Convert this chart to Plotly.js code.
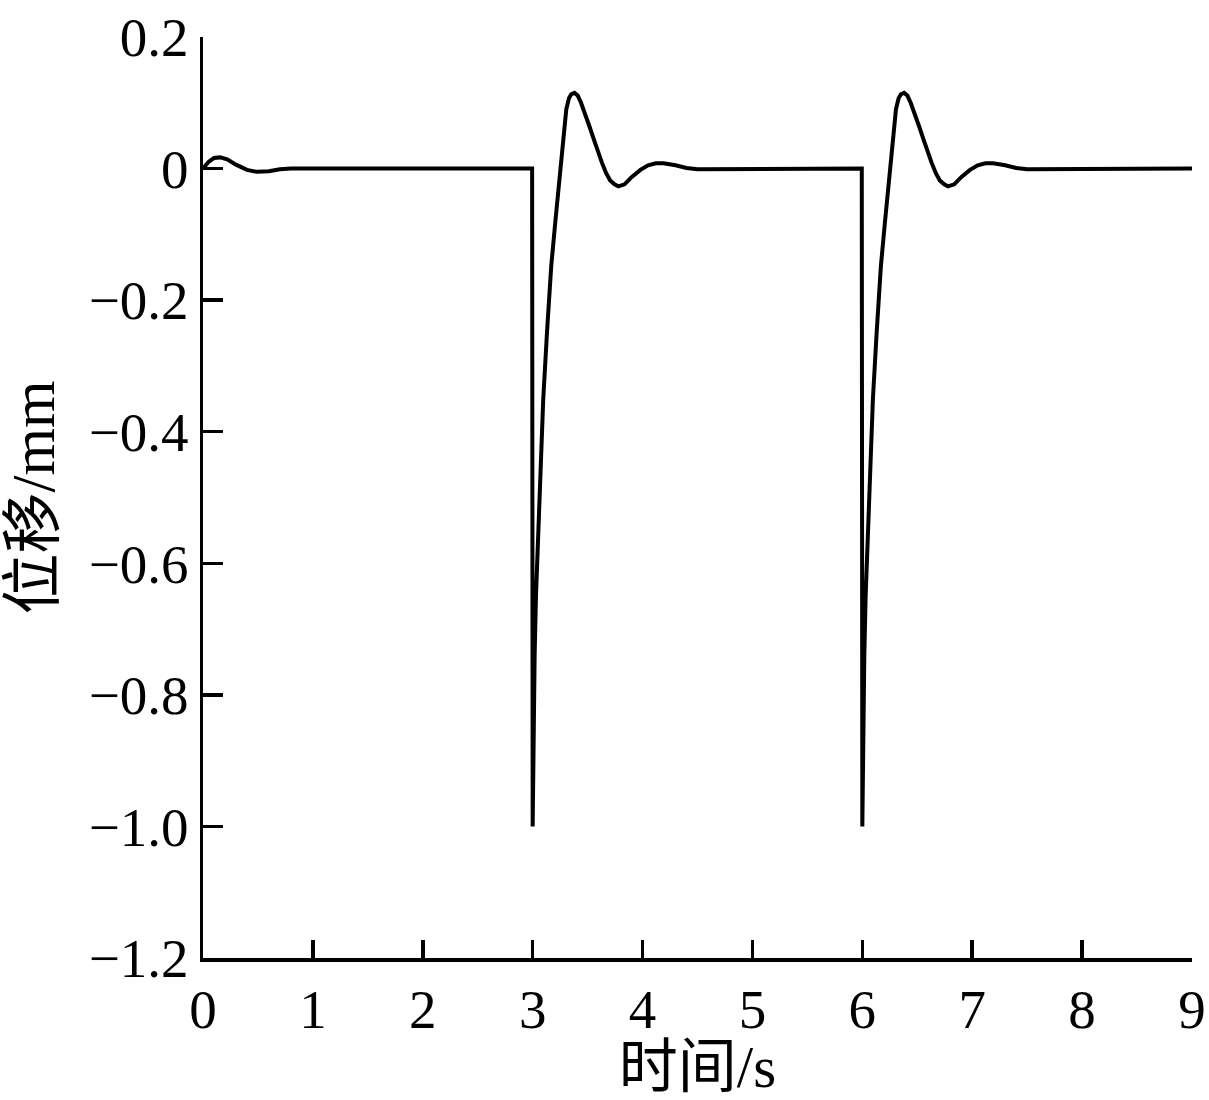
<!DOCTYPE html>
<html>
<head>
<meta charset="utf-8">
<script src="https://cdn.plot.ly/plotly-3.0.1.min.js"></script>
<style>
  html, body { margin: 0; padding: 0; background: #fff; }
  #chart { width: 1209px; height: 1100px; }
</style>
</head>
<body>
<div id="chart"></div>
<script>
// time (s) and displacement (mm)
var time = [
  0, 0.05, 0.1, 0.155, 0.22, 0.3, 0.4, 0.49, 0.6, 0.7, 0.8, 2.995,
  3.0, 3.008, 3.018, 3.03, 3.045, 3.066, 3.096, 3.13, 3.169, 3.205, 3.245,
  3.276, 3.306, 3.33, 3.351, 3.38, 3.41, 3.44, 3.48, 3.517, 3.555, 3.593, 3.63,
  3.669, 3.705, 3.745, 3.78, 3.836, 3.9, 3.98, 4.05, 4.12, 4.19, 4.3, 4.4, 4.5,
  4.7, 4.9, 5.995,
  6.0, 6.008, 6.018, 6.03, 6.045, 6.066, 6.096, 6.13, 6.169, 6.205, 6.245,
  6.276, 6.306, 6.33, 6.351, 6.38, 6.41, 6.44, 6.48, 6.517, 6.555, 6.593, 6.63,
  6.669, 6.705, 6.745, 6.78, 6.836, 6.9, 6.98, 7.05, 7.12, 7.19, 7.3, 7.4, 7.5,
  7.7, 7.9, 9.0
];
var displacement = [
  0, 0.01, 0.016, 0.017, 0.014, 0.006, -0.002, -0.005, -0.004, -0.001, 0, 0,
  -1.0, -0.85, -0.74, -0.65, -0.58, -0.478, -0.351, -0.25, -0.148, -0.083, -0.017,
  0.044, 0.09, 0.107, 0.113, 0.115, 0.111, 0.1, 0.083, 0.064, 0.045, 0.026, 0.009,
  -0.007, -0.018, -0.024, -0.027, -0.024, -0.013, -0.002, 0.005, 0.008, 0.008, 0.005, 0.001, -0.001,
  -0.001, 0, 0,
  -1.0, -0.85, -0.74, -0.65, -0.58, -0.478, -0.351, -0.25, -0.148, -0.083, -0.017,
  0.044, 0.09, 0.107, 0.113, 0.115, 0.111, 0.1, 0.083, 0.064, 0.045, 0.026, 0.009,
  -0.007, -0.018, -0.024, -0.027, -0.024, -0.013, -0.002, 0.005, 0.008, 0.008, 0.005, 0.001, -0.001,
  -0.001, 0, 0
];

var yTickVals = [0.2, 0, -0.2, -0.4, -0.6, -0.8, -1.0, -1.2];
var yTickText = ['0.2', '0', '\u22120.2', '\u22120.4', '\u22120.6', '\u22120.8', '\u22121.0', '\u22121.2'];
var xTickVals = [0, 1, 2, 3, 4, 5, 6, 7, 8, 9];

var fontFamily = '"Liberation Serif", "Noto Sans CJK SC", serif';

var data = [{
  x: time,
  y: displacement,
  type: 'scatter',
  mode: 'lines',
  line: { color: '#000', width: 4 },
  hoverinfo: 'skip'
}];

var layout = {
  width: 1209,
  height: 1100,
  paper_bgcolor: '#fff',
  plot_bgcolor: '#fff',
  showlegend: false,
  margin: { l: 203, r: 17, t: 37, b: 142 },
  font: { family: fontFamily, size: 55, color: '#000' },
  xaxis: {
    range: [0, 9],
    tickvals: xTickVals,
    ticks: 'inside',
    ticklen: 18,
    tickwidth: 3.5,
    tickcolor: '#000',
    showline: true,
    linewidth: 3.5,
    linecolor: '#000',
    showgrid: false,
    zeroline: false,
    automargin: false,
    tickfont: { family: fontFamily, size: 55 },
    title: { text: '时间/s', standoff: 0, font: { family: fontFamily, size: 59 } }
  },
  yaxis: {
    range: [-1.2, 0.2],
    tickvals: yTickVals,
    ticktext: yTickText,
    ticks: 'inside',
    ticklen: 20,
    tickwidth: 3.5,
    tickcolor: '#000',
    showline: true,
    linewidth: 3.5,
    linecolor: '#000',
    showgrid: false,
    zeroline: false,
    automargin: false,
    tickfont: { family: fontFamily, size: 55 },
    title: { text: '位移/mm', standoff: 16, font: { family: fontFamily, size: 61 } }
  }
};

Plotly.newPlot('chart', data, layout, { staticPlot: true, displayModeBar: false });
</script>
</body>
</html>
